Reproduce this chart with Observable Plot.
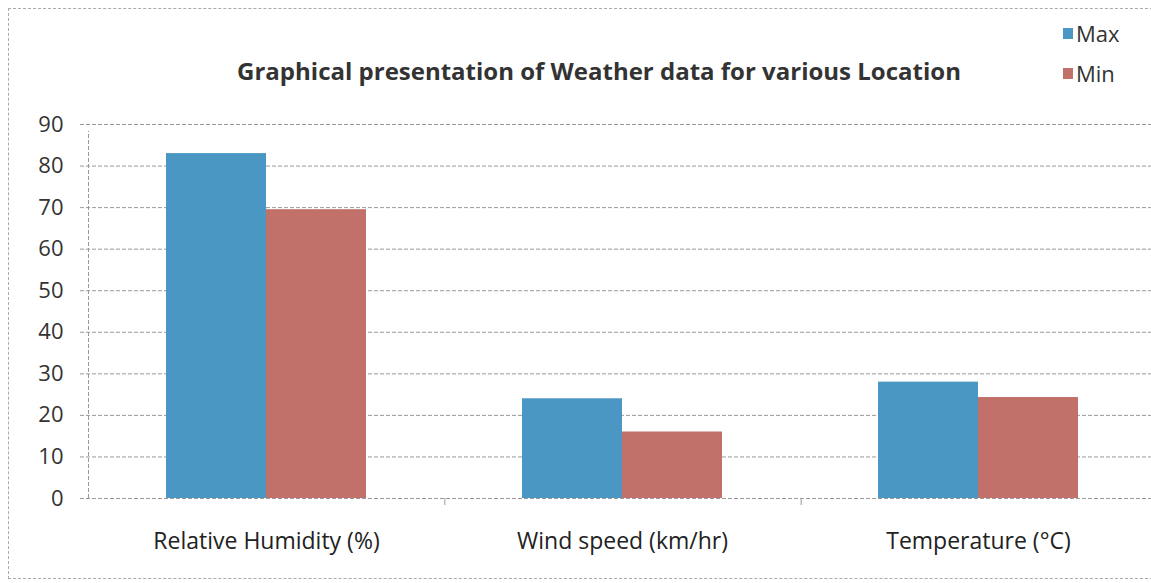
<!DOCTYPE html>
<html>
<head>
<meta charset="utf-8">
<script src="https://cdn.jsdelivr.net/npm/d3@7"></script>
<script src="https://cdn.jsdelivr.net/npm/@observablehq/plot@0.6"></script>
<style>
  html, body { margin: 0; padding: 0; background: #fff; }
  body { width: 1151px; height: 583px; position: relative; overflow: hidden; font-family: "Open Sans", sans-serif; }
  #frame { position: absolute; left: 8px; top: 8px; width: 1160px; height: 571px; border: 1px dashed #aaa; box-sizing: border-box; }
  #title { position: absolute; left: 0; width: 1198px; top: 54px; line-height: 34px; text-align: center; font-weight: 700; font-size: 24px; color: #333; }
  .leg { position: absolute; left: 1063px; font-size: 22px; line-height: 30px; color: #333; display: flex; align-items: center; }
  .leg span.sw { width: 10px; height: 11px; display: inline-block; margin-right: 3px; }
  #chart { position: absolute; left: 0; top: 114px; width: 1151px; height: 469px; }
  #chart svg { position: absolute; left: 0; top: 0; }
</style>
</head>
<body>
<div id="frame"></div>
<div id="title"></div>
<div id="legend"></div>
<div id="chart"></div>
<script>
const titleText = "Graphical presentation of Weather data for various Location";
const categories = ["Relative Humidity (%)", "Wind speed (km/hr)", "Temperature (°C)"];
const series = ["Max", "Min"];
const maxValues = [83, 24, 28];
const minValues = [69.5, 16, 24.3];
const yTicks = [0, 10, 20, 30, 40, 50, 60, 70, 80, 90];
const colors = ["#4a97c4", "#c1706a"];

document.getElementById("title").textContent = titleText;
const legend = document.getElementById("legend");
series.forEach((s, i) => {
  const d = document.createElement("div");
  d.className = "leg";
  d.style.top = (i === 0 ? 18 : 58) + "px";
  d.innerHTML = `<span class="sw" style="background:${colors[i]}"></span>${s}`;
  legend.appendChild(d);
});

const data = [];
categories.forEach((c, i) => {
  data.push({category: c, series: "Max", value: maxValues[i]});
  data.push({category: c, series: "Min", value: minValues[i]});
});

const common = {
  width: 1151, height: 469,
  marginTop: 10, marginBottom: 85, marginLeft: 88, marginRight: -6,
  style: {fontFamily: "Open Sans, sans-serif", background: "transparent", overflow: "visible"}
};

// Background: grid, y axis, category boundary ticks
const bg = Plot.plot({
  ...common,
  x: {domain: [0, categories.length], axis: null},
  y: {domain: [0, 90], axis: null},
  marks: [
    Plot.ruleY(yTicks, {y: d => d, stroke: "#9a9a9a", strokeWidth: 1, strokeDasharray: "4,2", insetLeft: -8}),
    Plot.ruleX([0], {y1: 0, y2: 90, stroke: "#9a9a9a", strokeDasharray: "4,2", insetBottom: -7}),
    Plot.ruleX(d3.range(1, categories.length + 1), {x: d => d, y1: 0, y2: 0, stroke: "#9a9a9a", insetBottom: -7}),
    Plot.axisY(yTicks, {tickSize: 0, tickPadding: 25, fontSize: 22, fill: "#333", label: null, textStroke: "none"})
  ]
});

// Foreground: grouped bars by facet
const fg = Plot.plot({
  ...common,
  fx: {domain: categories, paddingInner: 0.437, paddingOuter: 0.2185, label: null},
  x: {domain: series, padding: 0, axis: null},
  y: {domain: [0, 90], axis: null},
  color: {domain: series, range: colors},
  marks: [
    Plot.barY(data, {fx: "category", x: "series", y: "value", fill: "series", inset: 0}),
    Plot.axisFx({anchor: "bottom", tickSize: 0, tickPadding: 34, fontSize: 23, fill: "#222", label: null})
  ]
});

const chart = document.getElementById("chart");
chart.appendChild(bg);
chart.appendChild(fg);
</script>
</body>
</html>
